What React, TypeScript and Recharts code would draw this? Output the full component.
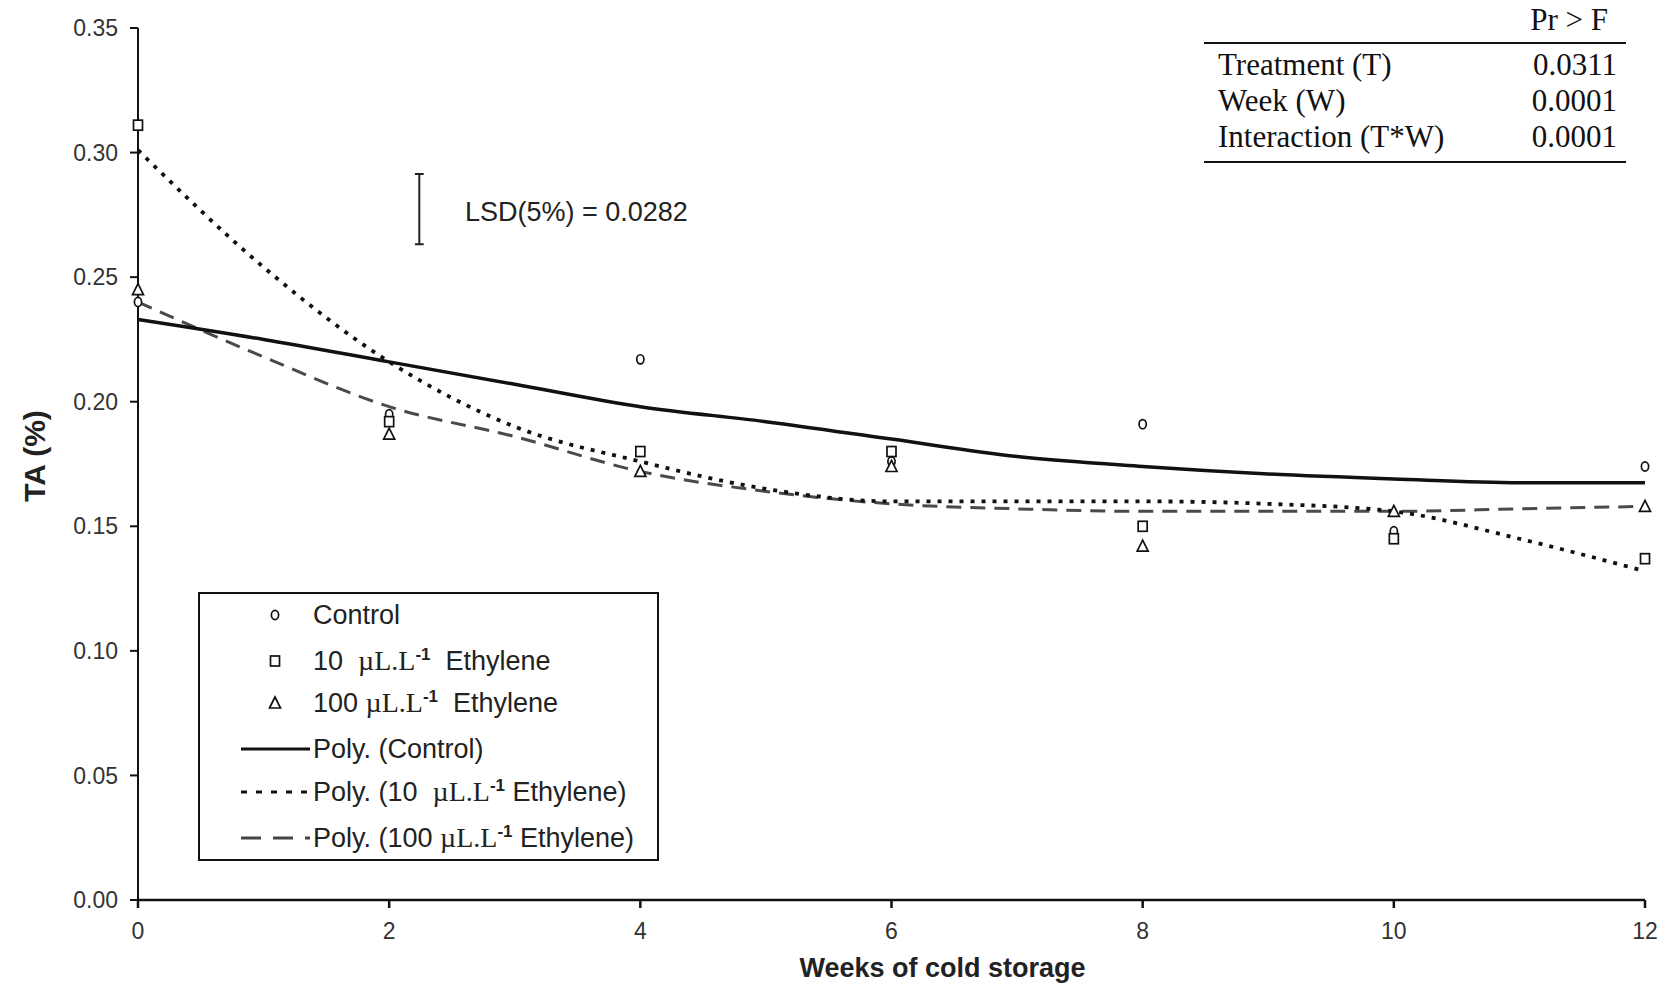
import { ComposedChart, Legend, Line, ReferenceLine, Scatter, XAxis, YAxis } from 'recharts'

// TA (%) measured every two weeks of cold storage
const weeks = [0, 2, 4, 6, 8, 10, 12]
const control = [0.24, 0.195, 0.217, 0.176, 0.191, 0.148, 0.174]
const ethylene10 = [0.311, 0.192, 0.18, 0.18, 0.15, 0.145, 0.137]
const ethylene100 = [0.245, 0.187, 0.172, 0.174, 0.142, 0.156, 0.158]

// polynomial trend curves, one value per week
const fitWeeks = [0, 1, 2, 3, 4, 5, 6, 7, 8, 9, 10, 11, 12]
const fitControl = [0.233, 0.225, 0.216, 0.207, 0.198, 0.192, 0.185, 0.178, 0.174, 0.171, 0.169, 0.1675, 0.1675]
const fitEthylene10 = [0.301, 0.254, 0.216, 0.19, 0.176, 0.165, 0.16, 0.16, 0.16, 0.159, 0.156, 0.145, 0.132]
const fitEthylene100 = [0.24, 0.218, 0.198, 0.186, 0.172, 0.164, 0.159, 0.157, 0.156, 0.156, 0.156, 0.157, 0.158]

const xTicks = [0, 2, 4, 6, 8, 10, 12]
const yTicks = [0, 0.05, 0.1, 0.15, 0.2, 0.25, 0.3, 0.35]

const lsd = 0.0282
const lsdWeek = 2.24
const lsdBottom = 0.2632

const anovaTerms = ['Treatment (T)', 'Week (W)', 'Interaction (T*W)']
const anovaP = ['0.0311', '0.0001', '0.0001']

const W = 1663
const H = 986
const sans = '"Liberation Sans", Arial, sans-serif'
const serif = '"Liberation Serif", "Times New Roman", serif'

const points = (ys: number[]) => weeks.map((week, i) => ({ week, ta: ys[i] }))
const fitRows = fitWeeks.map((week, i) => ({
  week,
  control: fitControl[i],
  e10: fitEthylene10[i],
  e100: fitEthylene100[i],
}))

const DOTTED = '4 7'
const DASHED = '15 9'

const CircleMark = ({ cx, cy }: any) => (
  <ellipse cx={cx} cy={cy} rx={3.6} ry={4.6} fill='#fff' stroke='#111' strokeWidth={1.7} />
)
const SquareMark = ({ cx, cy }: any) => (
  <rect x={cx - 4.5} y={cy - 5} width={9} height={10} fill='#fff' stroke='#111' strokeWidth={1.7} />
)
const TriangleMark = ({ cx, cy }: any) => (
  <path d={`M${cx},${cy - 6}L${cx + 5.5},${cy + 5}L${cx - 5.5},${cy + 5}Z`} fill='#fff' stroke='#111' strokeWidth={1.7} />
)

const Unit = () => (
  <>
    <span style={{ fontFamily: serif, fontSize: 28 }}>µL.L</span>
    <span style={{ fontSize: 17, fontWeight: 700, position: 'relative', top: -10 }}>-1</span>
  </>
)

const legendRows = [
  { kind: 'circle', text: <>Control</> },
  { kind: 'square', text: <>10  <Unit />  Ethylene</> },
  { kind: 'triangle', text: <>100 <Unit />  Ethylene</> },
  { kind: 'solid', text: <>Poly. (Control)</> },
  { kind: 'dotted', text: <>Poly. (10  <Unit /> Ethylene)</> },
  { kind: 'dashed', text: <>Poly. (100 <Unit /> Ethylene)</> },
]
const rowCenters = [23, 69, 111, 157, 200, 246]

function LegendSwatch({ kind }: { kind: string }) {
  if (kind === 'circle' || kind === 'square' || kind === 'triangle') {
    const Mark = kind === 'circle' ? CircleMark : kind === 'square' ? SquareMark : TriangleMark
    return (
      <svg width={70} height={20} style={{ position: 'absolute', left: 40, top: -10 }}>
        <Mark cx={35} cy={10} />
      </svg>
    )
  }
  const dash = kind === 'dotted' ? '6 9' : kind === 'dashed' ? '20 12' : undefined
  const color = kind === 'dashed' ? '#444' : '#111'
  return (
    <svg width={70} height={20} style={{ position: 'absolute', left: 40, top: -10 }}>
      <line x1={1} y1={10} x2={70} y2={10} stroke={color} strokeWidth={3} strokeDasharray={dash} />
    </svg>
  )
}

function LegendBox() {
  return (
    <div
      style={{
        position: 'relative',
        width: 461,
        height: 269,
        boxSizing: 'border-box',
        border: '2px solid #111',
        background: '#fff',
        fontFamily: sans,
        fontSize: 27,
        color: '#222',
      }}
    >
      {legendRows.map((row, i) => (
        <div key={i} style={{ position: 'absolute', left: 0, top: rowCenters[i] - 2, width: '100%' }}>
          <LegendSwatch kind={row.kind} />
          <div
            style={{
              position: 'absolute',
              left: 113,
              top: -16,
              lineHeight: '32px',
              whiteSpace: 'pre',
            }}
          >
            {row.text}
          </div>
        </div>
      ))}
    </div>
  )
}

export default function App() {
  return (
    <div style={{ position: 'absolute', left: 0, top: 0, width: W, height: H, background: '#fff' }}>
      <ComposedChart
        width={W}
        height={H}
        data={fitRows}
        margin={{ top: 28, right: 18, bottom: 0, left: 0 }}
      >
        <XAxis
          dataKey='week'
          type='number'
          domain={[0, 12]}
          ticks={xTicks}
          interval={0}
          height={86}
          tickSize={8}
          tickMargin={15}
          stroke='#111'
          strokeWidth={2.5}
          tick={{ fill: '#333', fontSize: 23, fontFamily: sans }}
          label={(props: any) => {
            const vb = props.viewBox
            return (
              <text
                x={vb.x + vb.width / 2 + 51}
                y={968}
                textAnchor='middle'
                dominantBaseline='central'
                fontFamily={sans}
                fontWeight={700}
                fontSize={27}
                fill='#222'
              >
                Weeks of cold storage
              </text>
            )
          }}
        />
        <YAxis
          type='number'
          domain={[0, 0.35]}
          ticks={yTicks}
          interval={0}
          width={138}
          tickSize={8}
          tickMargin={12}
          stroke='#111'
          strokeWidth={2}
          tickFormatter={(v: number) => v.toFixed(2)}
          tick={{ fill: '#333', fontSize: 23, fontFamily: sans }}
          label={(props: any) => {
            const vb = props.viewBox
            const x = vb.x + 34
            const y = vb.y + vb.height / 2 - 8
            return (
              <text
                x={x}
                y={y}
                transform={`rotate(-90 ${x} ${y})`}
                textAnchor='middle'
                dominantBaseline='central'
                fontFamily={sans}
                fontWeight={700}
                fontSize={30}
                fill='#222'
              >
                TA (%)
              </text>
            )
          }}
        />
        <Legend
          layout='horizontal'
          align='center'
          verticalAlign='middle'
          wrapperStyle={{ left: 198, top: 592, width: 461, height: 269 }}
          content={() => <LegendBox />}
        />

        {/* LSD bar */}
        <ReferenceLine
          segment={[
            { x: lsdWeek, y: lsdBottom },
            { x: lsdWeek, y: lsdBottom + lsd },
          ]}
          stroke='#222'
          strokeWidth={2}
        />
        <ReferenceLine
          segment={[
            { x: lsdWeek - 0.035, y: lsdBottom + lsd },
            { x: lsdWeek + 0.035, y: lsdBottom + lsd },
          ]}
          stroke='#222'
          strokeWidth={2}
        />
        <ReferenceLine
          segment={[
            { x: lsdWeek - 0.035, y: lsdBottom },
            { x: lsdWeek + 0.035, y: lsdBottom },
          ]}
          stroke='#222'
          strokeWidth={2}
        />

        <Line
          dataKey='e100'
          type='monotone'
          stroke='#4a4a4a'
          strokeWidth={3}
          strokeDasharray={DASHED}
          dot={false}
          activeDot={false}
          isAnimationActive={false}
        />
        <Line
          dataKey='e10'
          type='monotone'
          stroke='#111'
          strokeWidth={3.8}
          strokeDasharray={DOTTED}
          dot={false}
          activeDot={false}
          isAnimationActive={false}
        />
        <Line
          dataKey='control'
          type='monotone'
          stroke='#111'
          strokeWidth={3.5}
          dot={false}
          activeDot={false}
          isAnimationActive={false}
        />

        <Scatter data={points(control)} dataKey='ta' shape={CircleMark} isAnimationActive={false} />
        <Scatter data={points(ethylene10)} dataKey='ta' shape={SquareMark} isAnimationActive={false} />
        <Scatter data={points(ethylene100)} dataKey='ta' shape={TriangleMark} isAnimationActive={false} />
      </ComposedChart>

      <div
        style={{
          position: 'absolute',
          left: 465,
          top: 196,
          fontFamily: sans,
          fontSize: 27,
          color: '#222',
          whiteSpace: 'pre',
          lineHeight: '32px',
        }}
      >
        LSD(5%) = 0.0282
      </div>

      <div
        style={{
          position: 'absolute',
          left: 1204,
          top: 0,
          width: 422,
          fontFamily: serif,
          fontSize: 31,
          color: '#111',
        }}
      >
        <div style={{ textAlign: 'right', paddingRight: 18, height: 42, lineHeight: '40px' }}>Pr &gt; F</div>
        <div style={{ borderTop: '2px solid #111', borderBottom: '2px solid #111', padding: '3px 0 6px' }}>
          {anovaTerms.map((term, i) => (
            <div
              key={term}
              style={{ display: 'flex', justifyContent: 'space-between', padding: '0 9px 0 14px', lineHeight: '36px' }}
            >
              <span>{term}</span>
              <span>{anovaP[i]}</span>
            </div>
          ))}
        </div>
      </div>
    </div>
  )
}
